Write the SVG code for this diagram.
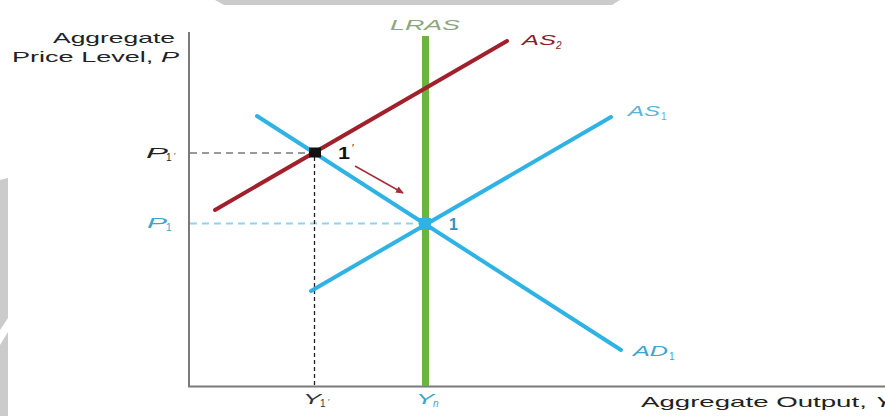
<svg xmlns="http://www.w3.org/2000/svg" width="885" height="416" viewBox="0 0 885 416">
<style>
text{font-family:"Liberation Sans",Arial,sans-serif;}
.lab{font-size:15px;fill:#222;}
.it{font-style:italic;}
.blue{fill:#3aa6d0;}
.curveB{stroke:#2fb2e4;stroke-width:4;fill:none;stroke-linecap:round;}
.sub{font-size:10px;}
</style>
<defs>
<marker id="ah" markerWidth="8" markerHeight="8" refX="7" refY="4" orient="auto" markerUnits="userSpaceOnUse">
<path d="M0,0.5 L8,4 L0,7.5 Z" fill="#a3303a"/>
</marker>
</defs>
<rect width="885" height="416" fill="#ffffff"/>
<g id="watermark" fill="#cbcbcb">
<path d="M215,0 H620 L612,5 H224 Z"/>
<path d="M0,180 L8,178 V416 H0 V345 L8,332 V318 L0,330 Z"/>
</g>
<g id="axes" stroke="#7a7a7a" stroke-width="2" fill="none">
<line x1="189" y1="32" x2="189" y2="387"/>
<line x1="188" y1="386.5" x2="885" y2="386.5"/>
</g>
<g id="axis-labels">
<text class="lab" x="53" y="43" textLength="122" lengthAdjust="spacingAndGlyphs">Aggregate</text>
<text class="lab" x="12" y="62" textLength="167" lengthAdjust="spacingAndGlyphs">Price Level, <tspan class="it">P</tspan></text>
<text class="lab" x="641" y="407" textLength="252" lengthAdjust="spacingAndGlyphs">Aggregate Output, <tspan class="it">Y</tspan></text>
</g>
<g id="connectors">
<line x1="190" y1="153" x2="311" y2="153" stroke="#9a9a9a" stroke-width="2" stroke-dasharray="7,5"/>
<line x1="190" y1="223.5" x2="419" y2="223.5" stroke="#8fd3ec" stroke-width="2" stroke-dasharray="7,5"/>
<line x1="314.5" y1="157" x2="314.5" y2="386" stroke="#222" stroke-width="1.3" stroke-dasharray="4,3"/>
<line x1="355" y1="166" x2="403" y2="193" stroke="#a3303a" stroke-width="1.5" marker-end="url(#ah)"/>
</g>
<g id="LRAS">
<line x1="425.5" y1="36" x2="425.5" y2="386" stroke="#6db33f" stroke-width="7"/>
<text x="390" y="30" font-size="15" class="it" fill="#8ea582" textLength="70" lengthAdjust="spacingAndGlyphs">LRAS</text>
</g>
<g id="AS2">
<line x1="215" y1="210" x2="507" y2="41" stroke="#a0202c" stroke-width="4" stroke-linecap="round"/>
<text x="522" y="45" font-size="15" fill="#8b1d2c" class="it" textLength="34" lengthAdjust="spacingAndGlyphs">AS</text>
<text x="556" y="49" class="sub it" fill="#8b1d2c">2</text>
</g>
<g id="AS1">
<line class="curveB" x1="311" y1="291" x2="611" y2="117"/>
<text x="628" y="116" font-size="14" fill="#5ab3d6" class="it" textLength="32" lengthAdjust="spacingAndGlyphs">AS</text>
<text x="661" y="120" class="sub" fill="#5ab3d6">1</text>
</g>
<g id="AD1">
<line class="curveB" x1="257" y1="116" x2="621" y2="350"/>
<text x="633" y="356" font-size="14" fill="#3aa6d0" class="it" textLength="35" lengthAdjust="spacingAndGlyphs">AD</text>
<text x="669" y="360" class="sub" fill="#3aa6d0">1</text>
</g>
<g id="point1prime">
<rect x="309" y="147.5" width="12" height="10" fill="#111"/>
<text x="338" y="159" font-size="17" font-weight="bold" fill="#111" textLength="12" lengthAdjust="spacingAndGlyphs">1</text>
<text x="352" y="152" font-size="10" fill="#111">′</text>
</g>
<g id="point1">
<rect x="419" y="218" width="12" height="12" fill="#2fb2e4"/>
<text x="449" y="230" font-size="16" font-weight="bold" fill="#3a8fb5">1</text>
</g>
<g id="P1prime">
<text x="146" y="158" font-size="15" class="it" fill="#222" textLength="22" lengthAdjust="spacingAndGlyphs">P</text>
<text x="166" y="161" class="sub" fill="#222">1</text>
<text x="174" y="158" font-size="8" fill="#222">′</text>
</g>
<g id="P1">
<text x="147" y="228" font-size="15" class="it blue" textLength="20" lengthAdjust="spacingAndGlyphs">P</text>
<text x="166" y="231" class="sub blue">1</text>
</g>
<g id="Y1prime">
<text x="303" y="404" font-size="14" class="it" fill="#333" textLength="18" lengthAdjust="spacingAndGlyphs">Y</text>
<text x="320" y="407" class="sub" fill="#333">1</text>
<text x="328" y="404" font-size="8" fill="#333">′</text>
</g>
<g id="Yn">
<text x="416" y="404" font-size="14" class="it blue" textLength="18" lengthAdjust="spacingAndGlyphs">Y</text>
<text x="433" y="407" class="sub it blue">n</text>
</g>
</svg>
